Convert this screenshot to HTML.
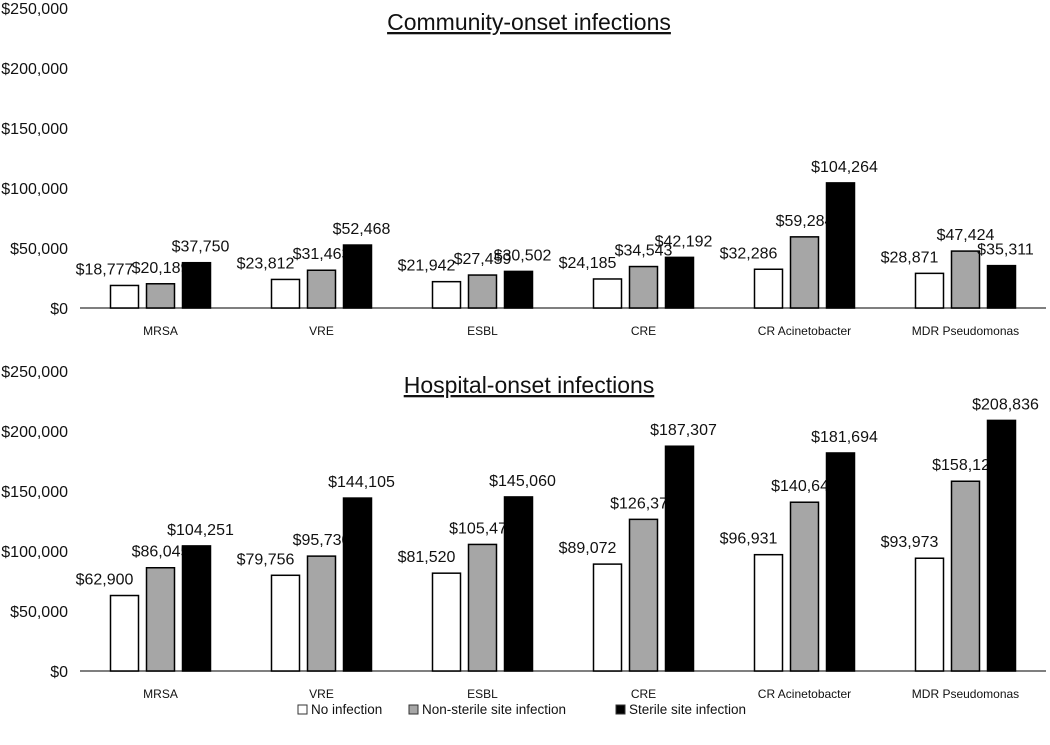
<!DOCTYPE html>
<html><head><meta charset="utf-8"><style>
body{margin:0;background:#fff;}
svg text{font-family:"Liberation Sans",sans-serif;fill:#111;}
</style></head><body>
<svg id="chart" width="1050" height="740" xmlns="http://www.w3.org/2000/svg"></svg>
<script>
const categories=["MRSA","VRE","ESBL","CRE","CR Acinetobacter","MDR Pseudomonas"];
const seriesNames=["No infection","Non-sterile site infection","Sterile site infection"];
const communityNo=[18777,23812,21942,24185,32286,28871];
const communityNonSterile=[20189,31463,27459,34543,59284,47424];
const communitySterile=[37750,52468,30502,42192,104264,35311];
const hospitalNo=[62900,79756,81520,89072,96931,93973];
const hospitalNonSterile=[86045,95730,105472,126378,140640,158126];
const hospitalSterile=[104251,144105,145060,187307,181694,208836];
const yTicks=[0,50000,100000,150000,200000,250000];
const fills=["#fff","#a6a6a6","#000"];
const labelDx=[-20,0,4];
const svg=document.getElementById('chart');
const NS="http://www.w3.org/2000/svg";
function mk(t,a,txt){const e=document.createElementNS(NS,t);for(const k in a)e.setAttribute(k,a[k]);if(txt!=null)e.textContent=txt;svg.appendChild(e);return e;}
const fmt=v=>"$"+v.toLocaleString("en-US");
const x0=80,catW=161,barW=28,barStep=36;
function panel(key,title,base,series){
  const y=v=>base-v/50000*60;
  const ti=mk('text',{x:529,y:base-300+22,'text-anchor':'middle','font-size':23,'text-decoration':'underline'},title);
  
  yTicks.forEach(t=>{const e=mk('text',{x:68,y:y(t)+6,'text-anchor':'end','font-size':16},fmt(t));
    });
  const ax=mk('line',{x1:x0,x2:x0+6*catW,y1:base,y2:base,stroke:'#555','stroke-width':1.5});
  
  categories.forEach((c,i)=>{
    const cx=x0+catW*(i+0.5);
    const cl=mk('text',{x:cx,y:base+27,'text-anchor':'middle','font-size':12},c);
    
    series.forEach((s,j)=>{
      const bx=cx+(j-1)*barStep-barW/2;const v=s[i];
      const r=mk('rect',{x:bx,y:y(v),width:barW,height:base-y(v),fill:fills[j],stroke:'#000','stroke-width':1.5});
      
      const l=mk('text',{x:bx+barW/2+labelDx[j],y:y(v)-11,'text-anchor':'middle','font-size':16},fmt(v));
      
    });
  });
}
panel('community','Community-onset infections',308,[communityNo,communityNonSterile,communitySterile]);
panel('hospital','Hospital-onset infections',671,[hospitalNo,hospitalNonSterile,hospitalSterile]);
const lx=[298,409,616];
seriesNames.forEach((n,j)=>{
  const r=mk('rect',{x:lx[j],y:705,width:9,height:9,fill:fills[j],stroke:'#333','stroke-width':1});
  
  const t=mk('text',{x:lx[j]+13,y:714,'font-size':13.5},n);
  
});
</script>
</body></html>
